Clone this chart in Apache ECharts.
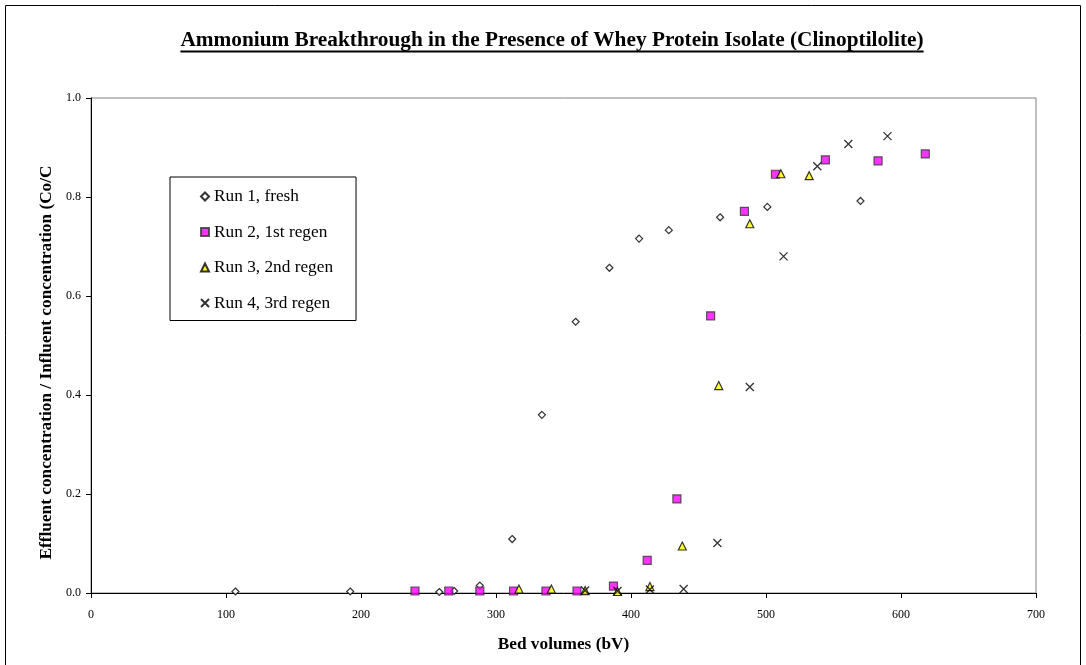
<!DOCTYPE html>
<html>
<head>
<meta charset="utf-8">
<script src="https://cdn.jsdelivr.net/npm/echarts@6/dist/echarts.min.js"></script>
<style>
  html, body { margin: 0; padding: 0; background: #fff; }
  #main { width: 1086px; height: 665px; }
</style>
</head>
<body>
<div id="main"></div>
<script>
// Run 1, fresh
var run1X = [107, 192, 258, 269, 288, 312, 334, 359, 384, 406, 428, 466, 501, 570]
var run1Y = [0.003, 0.003, 0.002, 0.004, 0.015, 0.109, 0.360, 0.548, 0.657, 0.716, 0.733, 0.759, 0.780, 0.792]
// Run 2, 1st regen
var run2X = [240, 265, 288, 313, 337, 360, 387, 412, 434, 459, 484, 507, 544, 583, 618]
var run2Y = [0.004, 0.004, 0.004, 0.004, 0.004, 0.004, 0.014, 0.066, 0.190, 0.560, 0.771, 0.846, 0.875, 0.873, 0.887]
// Run 3, 2nd regen
var run3X = [317, 341, 366, 390, 414, 438, 465, 488, 511, 532]
var run3Y = [0.008, 0.008, 0.005, 0.003, 0.013, 0.095, 0.419, 0.746, 0.847, 0.843]
// Run 4, 3rd regen
var run4X = [366, 390, 414, 439, 464, 488, 513, 538, 561, 590]
var run4Y = [0.005, 0.004, 0.007, 0.008, 0.101, 0.416, 0.680, 0.862, 0.907, 0.923]

var seriesNames = ['Run 1, fresh', 'Run 2, 1st regen', 'Run 3, 2nd regen', 'Run 4, 3rd regen']

var titleText = 'Ammonium Breakthrough in the Presence of Whey Protein Isolate (Clinoptilolite)'
var serif = '"Liberation Serif", "Times New Roman", serif'

function pairs (xs, ys) {
  return xs.map(function (x, i) { return [x, ys[i]] })
}

// measure the title so the underline fits it
var titleSize = 21.3
var ctx = document.createElement('canvas').getContext('2d')
ctx.font = 'bold ' + titleSize + 'px ' + serif
var titleW = ctx.measureText(titleText).width
var titleCx = 552

var crossPath = 'path://M0,0L10,10M10,0L0,10'

var option = {
  backgroundColor: '#fff',
  animation: false,
  title: {
    text: titleText,
    left: titleCx - titleW / 2,
    top: 30,
    padding: 0,
    textStyle: { fontFamily: serif, fontSize: titleSize, fontWeight: 'bold', color: '#000' }
  },
  graphic: [
    {
      type: 'rect',
      shape: { x: 5.5, y: 5.5, width: 1075, height: 700 },
      style: { fill: 'none', stroke: '#000', lineWidth: 1 },
      silent: true
    },
    {
      type: 'line',
      shape: { x1: titleCx - titleW / 2, y1: 51.5, x2: titleCx + titleW / 2, y2: 51.5 },
      style: { stroke: '#000', lineWidth: 2 },
      silent: true
    }
  ],
  legend: {
    orient: 'vertical',
    left: 170,
    top: 177,
    padding: [11, 23, 9, 30],
    itemGap: 18.5,
    itemWidth: 8,
    itemHeight: 8,
    borderColor: '#000',
    borderWidth: 1,
    textStyle: { fontFamily: serif, fontSize: 17.3, color: '#000' },
    data: seriesNames
  },
  grid: {
    left: 91,
    right: 50,
    top: 98,
    bottom: 72,
    show: true,
    borderColor: '#808080',
    borderWidth: 1
  },
  xAxis: {
    type: 'value',
    min: 0,
    max: 700,
    interval: 100,
    name: 'Bed volumes (bV)',
    nameLocation: 'middle',
    nameGap: 43,
    nameTextStyle: { fontFamily: serif, fontSize: 17.3, fontWeight: 'bold', color: '#000' },
    axisLine: { lineStyle: { color: '#000', width: 1 } },
    axisTick: { show: true, length: 5, lineStyle: { color: '#000' } },
    axisLabel: { fontFamily: serif, fontSize: 12, color: '#000', margin: 16 },
    splitLine: { show: false }
  },
  yAxis: {
    type: 'value',
    min: 0,
    max: 1,
    interval: 0.2,
    name: 'Effluent concentration / Influent concentration (Co/C',
    nameLocation: 'middle',
    nameGap: 29,
    nameTextStyle: {
      fontFamily: serif, fontSize: 17.3, fontWeight: 'bold', color: '#000',
      padding: [0, 34, 0, 0]
    },
    axisLine: { show: true, lineStyle: { color: '#000', width: 1 } },
    axisTick: { show: true, length: 5, lineStyle: { color: '#000' } },
    axisLabel: {
      fontFamily: serif, fontSize: 12, color: '#000', margin: 10,
      formatter: function (v) { return v.toFixed(1) }
    },
    splitLine: { show: false }
  },
  series: [
    {
      name: seriesNames[0],
      type: 'scatter',
      symbol: 'diamond',
      symbolSize: 7,
      itemStyle: { color: '#fff', borderColor: '#000', borderWidth: 1.2 },
      data: pairs(run1X, run1Y)
    },
    {
      name: seriesNames[1],
      type: 'scatter',
      symbol: 'rect',
      symbolSize: 8,
      itemStyle: { color: '#ff00ff', borderColor: '#333', borderWidth: 1.2 },
      data: pairs(run2X, run2Y)
    },
    {
      name: seriesNames[2],
      type: 'scatter',
      symbol: 'triangle',
      symbolSize: 8,
      itemStyle: { color: '#ffff00', borderColor: '#000', borderWidth: 1.2 },
      data: pairs(run3X, run3Y)
    },
    {
      name: seriesNames[3],
      type: 'scatter',
      symbol: crossPath,
      symbolSize: 8,
      itemStyle: { color: 'transparent', borderColor: '#000', borderWidth: 1.3 },
      data: pairs(run4X, run4Y)
    }
  ]
}

var myChart = echarts.init(document.getElementById('main'))
myChart.setOption(option)
</script>
</body>
</html>
